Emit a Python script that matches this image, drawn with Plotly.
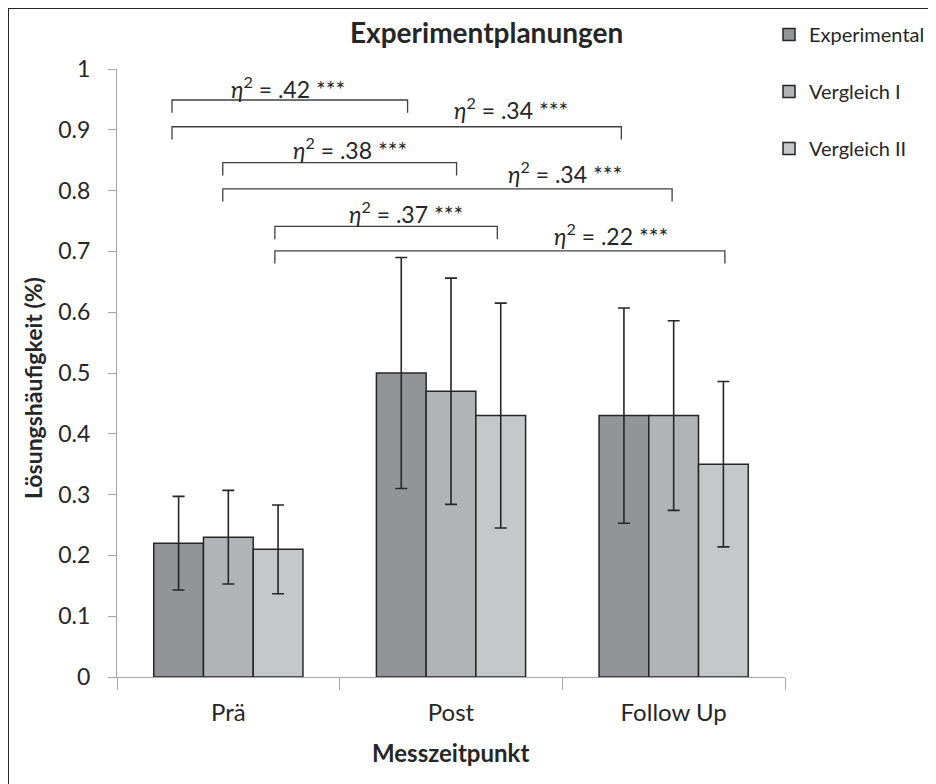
import plotly.graph_objects as go

categories = ["Prä", "Post", "Follow Up"]
series_names = ["Experimental", "Vergleich I", "Vergleich II"]
series_colors = ["#939498", "#b2b3b7", "#c6c7c9"]
values_experimental = [0.22, 0.50, 0.43]
values_vergleich1 = [0.23, 0.47, 0.43]
values_vergleich2 = [0.21, 0.43, 0.35]
err_experimental = [0.077, 0.19, 0.177]
err_vergleich1 = [0.077, 0.186, 0.156]
err_vergleich2 = [0.073, 0.185, 0.136]

y_ticks = [0, 0.1, 0.2, 0.3, 0.4, 0.5, 0.6, 0.7, 0.8, 0.9, 1]
y_ticklabels = ["0", "0.1", "0.2", "0.3", "0.4", "0.5", "0.6", "0.7", "0.8", "0.9", "1"]

# significance brackets: start (category index units), end, level, label
bracket_start = [-0.253, -0.253, -0.025, -0.025, 0.209, 0.209]
bracket_end = [0.805, 1.765, 1.025, 1.993, 1.208, 2.230]
bracket_level = [0.949, 0.905, 0.846, 0.803, 0.741, 0.701]
eta_values = [".42", ".34", ".38", ".34", ".37", ".22"]
label_x = [0.267, 1.269, 0.545, 1.511, 0.798, 1.717]
label_y = [0.970, 0.935, 0.869, 0.829, 0.764, 0.727]

FONT = "Lato, 'Open Sans', sans-serif"
TXT = "#262626"

values = [values_experimental, values_vergleich1, values_vergleich2]
errors = [err_experimental, err_vergleich1, err_vergleich2]

fig = go.Figure()
for i, name in enumerate(series_names):
    fig.add_trace(go.Bar(
        name=name,
        x=categories,
        y=values[i],
        legendgroup=name,
        marker=dict(color=series_colors[i], line=dict(color="#262626", width=1.5)),
        error_y=dict(type="data", array=errors[i], visible=True,
                     color="#262626", thickness=1.6, width=6),
    ))

# helpers: window pixel -> paper coordinates (plot area spans x 117..785, y 69..677)
def px(wx):
    return (wx - 117) / 668

def py(wy):
    return (677 - wy) / 608

shapes = []
annotations = []
tick_drop = 0.021
for x0, x1, lv, ev, lx, ly in zip(bracket_start, bracket_end, bracket_level,
                                  eta_values, label_x, label_y):
    shapes.append(dict(type="path", xref="x", yref="y",
                       path=f"M {x0},{lv - tick_drop} L {x0},{lv} L {x1},{lv} L {x1},{lv - tick_drop}",
                       line=dict(color="#404040", width=1.3)))
    annotations.append(dict(x=lx, y=ly, xref="x", yref="y", showarrow=False,
                            xanchor="center", yanchor="middle",
                            text=f"<i>η</i><sup>2</sup> = {ev} ***",
                            font=dict(family=FONT, size=23, color=TXT)))

# outer frame (left and top edges visible)
shapes.append(dict(type="line", xref="paper", yref="paper",
                   x0=px(8), x1=px(8), y0=py(8), y1=py(900),
                   line=dict(color="#262626", width=2)))
shapes.append(dict(type="line", xref="paper", yref="paper",
                   x0=px(8), x1=px(1100), y0=py(8), y1=py(8),
                   line=dict(color="#262626", width=2)))

annotations.append(dict(x=px(486), y=py(32), xref="paper", yref="paper",
                        xanchor="center", yanchor="middle",
                        showarrow=False, text="<b>Experimentplanungen</b>",
                        font=dict(family=FONT, size=28, color=TXT)))
annotations.append(dict(x=px(450), y=py(752), xref="paper", yref="paper",
                        xanchor="center", yanchor="middle",
                        showarrow=False, text="<b>Messzeitpunkt</b>",
                        font=dict(family=FONT, size=24, color=TXT)))
annotations.append(dict(x=px(33), y=py(388), xref="paper", yref="paper",
                        xanchor="center", yanchor="middle",
                        showarrow=False, text="<b>Lösungshäufigkeit (%)</b>", textangle=-90,
                        font=dict(family=FONT, size=23, color=TXT)))

fig.update_layout(
    width=928, height=776,
    margin=dict(l=109, r=151, t=61, b=107, autoexpand=False),
    paper_bgcolor="white", plot_bgcolor="white",
    barmode="group", bargap=0.33, bargroupgap=0,
    font=dict(family=FONT, color=TXT),
    showlegend=True,
    legend=dict(x=px(769), y=py(15), xanchor="left", yanchor="top",
                font=dict(family=FONT, size=20, color=TXT),
                tracegroupgap=28, itemwidth=30, bgcolor="rgba(0,0,0,0)"),
    shapes=shapes,
    annotations=annotations,
)
fig.update_xaxes(type="category", categoryorder="array", categoryarray=categories,
                 range=[-0.5, 2.5], showline=True, linecolor="#a6a6a6", linewidth=1.3,
                 ticks="outside", tickson="boundaries", ticklen=12, tickcolor="#a6a6a6",
                 tickwidth=1.3, showgrid=False, ticklabelstandoff=14,
                 tickfont=dict(family=FONT, size=24, color=TXT))
fig.update_yaxes(range=[0, 1], tickvals=y_ticks, ticktext=y_ticklabels,
                 showline=True, linecolor="#a6a6a6", linewidth=1.3,
                 ticks="outside", ticklen=8, tickcolor="#a6a6a6", tickwidth=1.3,
                 showgrid=False, zeroline=False, ticklabelstandoff=13,
                 tickfont=dict(family=FONT, size=23, color=TXT))

fig.write_html("out.html")
